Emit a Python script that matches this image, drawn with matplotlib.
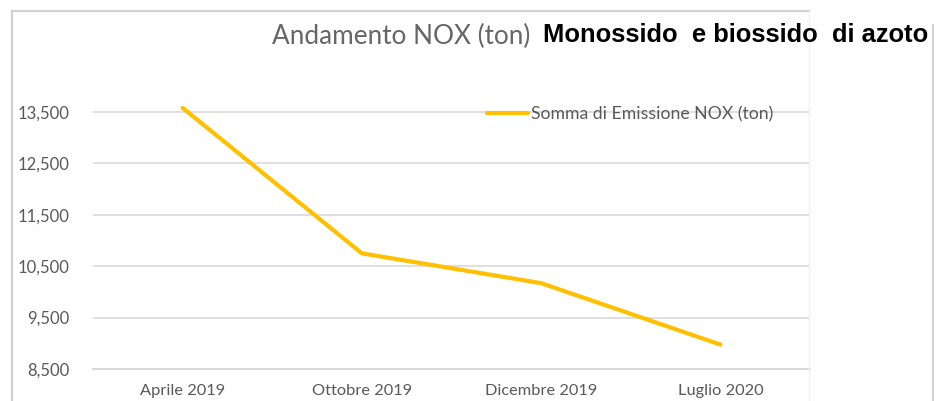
import matplotlib.pyplot as plt
from matplotlib.lines import Line2D

# data
mesi = ['Aprile 2019', 'Ottobre 2019', 'Dicembre 2019', 'Luglio 2020']
nox = [13580, 10750, 10170, 8975]
y_ticks = [8500, 9500, 10500, 11500, 12500, 13500]

W, H = 938, 401
fig = plt.figure(figsize=(W / 100, H / 100), dpi=100)
fig.patch.set_facecolor('white')

gray = '#595959'
grid = '#d9d9d9'
gold = '#FFC000'

# axes placed in pixel terms
left, right, bottom, top = 93, 810, 369, 40
ax = fig.add_axes([left / W, 1 - bottom / H, (right - left) / W, (bottom - top) / H])
ax.plot(range(len(mesi)), nox, color=gold, lw=3.0, solid_capstyle='round',
        label='Somma di Emissione NOX (ton)')
ax.set_xlim(-0.5, len(mesi) - 0.5)
ax.set_ylim(8500, 8500 + (bottom - top) / 51.4 * 1000)
ax.set_yticks(y_ticks)
ax.set_yticklabels([f'{v:,}' for v in y_ticks])
ax.set_xticks(range(len(mesi)))
ax.set_xticklabels(mesi)
ax.tick_params(length=0, colors=gray, labelsize=12)
ax.tick_params(axis='y', pad=17)
ax.tick_params(axis='x', pad=11, labelsize=11.8)
for lab in ax.get_xticklabels() + ax.get_yticklabels():
    lab.set_fontfamily('Lato')
ax.grid(axis='y', color=grid, lw=1.2)
ax.set_axisbelow(True)
for s in ['top', 'right', 'left']:
    ax.spines[s].set_visible(False)
ax.spines['bottom'].set_color(grid)
ax.spines['bottom'].set_linewidth(1.5)

leg = ax.legend(loc='upper left', bbox_to_anchor=((487 - left) / (right - left), 1 - (106 - top) / (bottom - top)),
                frameon=False, handlelength=2.3, handletextpad=0.2, borderaxespad=0, borderpad=0,
                prop={'family': 'Lato', 'size': 12.7})
for t in leg.get_texts():
    t.set_color(gray)

# outer frame of the chart
fr = '#d0d0d0'
fig.add_artist(Line2D([11.5 / W, 11.5 / W], [0, 1 - 11 / H], color=fr, lw=1.6))
fig.add_artist(Line2D([11.5 / W, 809 / W], [1 - 11 / H, 1 - 11 / H], color=fr, lw=1.6))
fig.add_artist(Line2D([809 / W, 809 / W], [0, 1 - 11 / H], color='#f0f0f0', lw=1.0))
fig.add_artist(Line2D([933 / W, 933 / W], [0, 1 - 25 / H], color='#c8c8c8', lw=1.2))

# titles
fig.text(530 / W, 1 - 36 / H, 'Andamento NOX (ton)', ha='right', va='center',
         color='#666666', fontsize=18.8, family='Lato')
fig.text(543 / W, 1 - 35 / H, 'Monossido  e biossido  di azoto', ha='left', va='center',
         color='black', fontsize=18.4, family='Liberation Sans', fontweight='bold')

fig.savefig('out.png', dpi=100)
